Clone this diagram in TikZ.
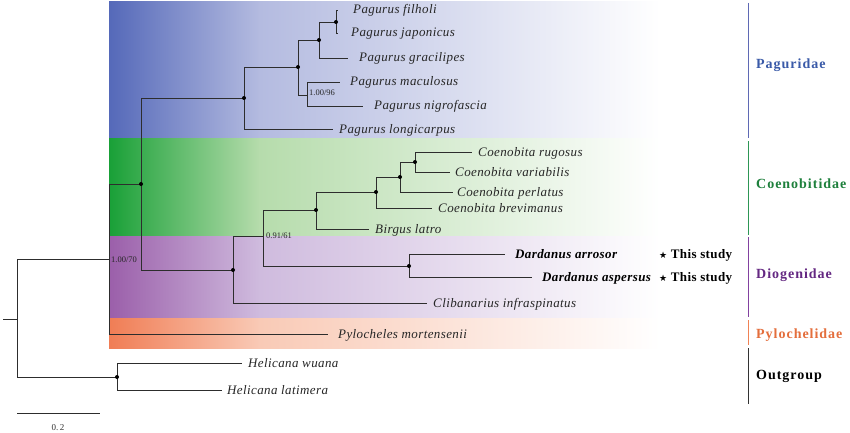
\documentclass[tikz,border=0pt]{standalone}
\usepackage{fontspec}
\setmainfont{Liberation Serif}
\newfontfamily\spfont[LetterSpace=3]{Liberation Serif}
\newfontfamily\famfont[LetterSpace=7]{Liberation Serif}
\newfontfamily\symfont{DejaVu Sans}
\definecolor{treec}{RGB}{45,45,45}
\definecolor{pagS}{RGB}{85,105,185}
\definecolor{pagM}{RGB}{180,187,224}
\definecolor{coeS}{RGB}{25,160,55}
\definecolor{coeM}{RGB}{182,220,172}
\definecolor{dioS}{RGB}{155,95,170}
\definecolor{dioM}{RGB}{207,187,222}
\definecolor{pylS}{RGB}{240,125,85}
\definecolor{pylM}{RGB}{249,202,182}
\definecolor{pagT}{RGB}{58,90,168}
\definecolor{coeT}{RGB}{30,128,60}
\definecolor{dioT}{RGB}{100,40,130}
\definecolor{pylT}{RGB}{228,110,60}
\definecolor{pagL}{RGB}{95,105,180}
\definecolor{coeL}{RGB}{45,150,85}
\definecolor{dioL}{RGB}{130,65,160}
\definecolor{pylL}{RGB}{240,130,85}
\begin{document}
\begin{tikzpicture}[x=1pt,y=-1pt,
  br/.style={draw=treec, line width=0.8pt},
  dot/.style={circle, fill=black, inner sep=0pt, minimum size=4pt},
  sp/.style={anchor=base west, inner sep=0pt, yshift=-4pt, text=black!85,
    font=\spfont\itshape\fontsize{13}{15}\selectfont},
  spb/.style={anchor=base west, inner sep=0pt, yshift=-4pt, text=black,
    font=\spfont\bfseries\itshape\fontsize{13}{15}\selectfont},
  stud/.style={anchor=base west, inner sep=0pt, yshift=-4pt, text=black,
    font=\spfont\bfseries\fontsize{13}{15}\selectfont},
  sup/.style={anchor=west, inner sep=0pt, text=black!85,
    font=\fontsize{8.5}{10}\selectfont},
  fam/.style={anchor=base west, inner sep=0pt, yshift=-5pt,
    font=\famfont\bfseries\fontsize{14}{16}\selectfont},
  famline/.style={line width=0.9pt}
]
\useasboundingbox (0,0) rectangle (850,433);
\fill[white] (0,0) rectangle (850,433);
% background bands
\shade[left color=pagS, right color=pagM] (109,2) rectangle (260,138);
\shade[left color=pagM, right color=white] (259.5,2) rectangle (660,138);
\shade[left color=coeS, right color=coeM] (109,138) rectangle (260,236);
\shade[left color=coeM, right color=white] (259.5,138) rectangle (660,236);
\shade[left color=dioS, right color=dioM] (109,236) rectangle (260,318);
\shade[left color=dioM, right color=white] (259.5,236) rectangle (660,318);
\shade[left color=pylS, right color=pylM] (109,318) rectangle (260,348);
\shade[left color=pylM, right color=white] (259.5,318) rectangle (660,348);

% internal nodes
\coordinate (stub) at (3,319);
\coordinate (root) at (17,319);
\coordinate (n109) at (109,259);
\coordinate (n141) at (141,184);
\coordinate (n244) at (244,98);
\coordinate (n298) at (298,67);
\coordinate (n319) at (319,40);
\coordinate (n336) at (336,22);
\coordinate (n307) at (307,95);
\coordinate (n233) at (233,270);
\coordinate (n263) at (263,236);
\coordinate (n316) at (316,210);
\coordinate (n376) at (376,192);
\coordinate (n400) at (400,177);
\coordinate (n415) at (415,162);
\coordinate (n409) at (409,266);
\coordinate (n117) at (117,377);
% tips
\coordinate (tFil) at (338,10);
\coordinate (tJap) at (338,33);
\coordinate (tGra) at (348,58);
\coordinate (tMac) at (340,82);
\coordinate (tNig) at (363,106);
\coordinate (tLon) at (333,129);
\coordinate (tRug) at (472,152);
\coordinate (tVar) at (450,172);
\coordinate (tPer) at (453,192);
\coordinate (tBre) at (432,208);
\coordinate (tBir) at (369,229);
\coordinate (tArr) at (505,254);
\coordinate (tAsp) at (532,277);
\coordinate (tCli) at (427,303);
\coordinate (tPyl) at (328,334);
\coordinate (tWua) at (242,363);
\coordinate (tLat) at (222,390);

% branches
\draw[br] (stub) -- (root);
\draw[br] (root) |- (n109);
\draw[br] (root) |- (n117);
\draw[br] (n109) |- (n141);
\draw[br] (n109) |- (tPyl);
\draw[br] (n141) |- (n244);
\draw[br] (n141) |- (n233);
\draw[br] (n244) |- (n298);
\draw[br] (n244) |- (tLon);
\draw[br] (n298) |- (n319);
\draw[br] (n298) |- (n307);
\draw[br] (n319) |- (n336);
\draw[br] (n319) |- (tGra);
\draw[br] (n336) |- (tFil);
\draw[br] (n336) |- (tJap);
\draw[br] (n307) |- (tMac);
\draw[br] (n307) |- (tNig);
\draw[br] (n233) |- (n263);
\draw[br] (n233) |- (tCli);
\draw[br] (n263) |- (n316);
\draw[br] (n263) |- (n409);
\draw[br] (n316) |- (n376);
\draw[br] (n316) |- (tBir);
\draw[br] (n376) |- (n400);
\draw[br] (n376) |- (tBre);
\draw[br] (n400) |- (n415);
\draw[br] (n400) |- (tPer);
\draw[br] (n415) |- (tRug);
\draw[br] (n415) |- (tVar);
\draw[br] (n409) |- (tArr);
\draw[br] (n409) |- (tAsp);
\draw[br] (n117) |- (tWua);
\draw[br] (n117) |- (tLat);

% node dots
\node[dot] (d336) at (n336) {};
\node[dot] (d319) at (n319) {};
\node[dot] (d298) at (n298) {};
\node[dot] (d244) at (n244) {};
\node[dot] (d141) at (n141) {};
\node[dot] (d415) at (n415) {};
\node[dot] (d400) at (n400) {};
\node[dot] (d376) at (n376) {};
\node[dot] (d316) at (n316) {};
\node[dot] (d233) at (n233) {};
\node[dot] (d409) at (n409) {};
\node[dot] (d117) at (n117) {};

% support values
\node[sup] (s307) at (309,93) {1.00/96};
\node[sup] (s263) at (266,236) {0.91/61};
\node[sup] (s109) at (111,260) {1.00/70};

% species labels
\node[sp] (lFil) at (353,10) {Pagurus filholi};
\node[sp] (lJap) at (351,33) {Pagurus japonicus};
\node[sp] (lGra) at (359,58) {Pagurus gracilipes};
\node[sp] (lMac) at (350,82) {Pagurus maculosus};
\node[sp] (lNig) at (374,106) {Pagurus nigrofascia};
\node[sp] (lLon) at (339,129) {Pagurus longicarpus};
\node[sp] (lRug) at (478,152) {Coenobita rugosus};
\node[sp] (lVar) at (455,172) {Coenobita variabilis};
\node[sp] (lPer) at (457,192) {Coenobita perlatus};
\node[sp] (lBre) at (438,208) {Coenobita brevimanus};
\node[sp] (lBir) at (375,229) {Birgus latro};
\node[spb] (lArr) at (515,254) {Dardanus arrosor};
\node[spb] (lAsp) at (542,277) {Dardanus aspersus};
\node[stud] (tsA) at (659,254) {{\symfont\fontsize{9}{10}\selectfont ★} This study};
\node[stud] (tsB) at (659,277) {{\symfont\fontsize{9}{10}\selectfont ★} This study};
\node[sp] (lCli) at (433,303) {Clibanarius infraspinatus};
\node[sp] (lPyl) at (338,334) {Pylocheles mortensenii};
\node[sp] (lWua) at (248,363) {Helicana wuana};
\node[sp] (lLat) at (227,390) {Helicana latimera};

% family bars
\coordinate (pagA) at (748,3);   \coordinate (pagB) at (748,138);
\coordinate (coeA) at (748,141); \coordinate (coeB) at (748,235);
\coordinate (dioA) at (748,237); \coordinate (dioB) at (748,317);
\coordinate (pylA) at (748,320); \coordinate (pylB) at (748,345);
\coordinate (outA) at (748,348); \coordinate (outB) at (748,404);
\draw[famline, pagL] (pagA) -- (pagB);
\draw[famline, coeL] (coeA) -- (coeB);
\draw[famline, dioL] (dioA) -- (dioB);
\draw[famline, pylL] (pylA) -- (pylB);
\draw[famline, black!80] (outA) -- (outB);
\node[fam, text=pagT] (fPag) at (756,64) {Paguridae};
\node[fam, text=coeT] (fCoe) at (756,183) {Coenobitidae};
\node[fam, text=dioT] (fDio) at (756,273) {Diogenidae};
\node[fam, text=pylT] (fPyl) at (756,333) {Pylochelidae};
\node[fam, text=black] (fOut) at (756,374) {Outgroup};

% scale bar
\coordinate (sbL) at (17,413);
\coordinate (sbR) at (100,413);
\draw[br] (sbL) -- (sbR);
\node[inner sep=0pt, font=\fontsize{9}{10}\selectfont, text=black!80] (sbT) at (58,428) {0.\,2};
\end{tikzpicture}
\end{document}
